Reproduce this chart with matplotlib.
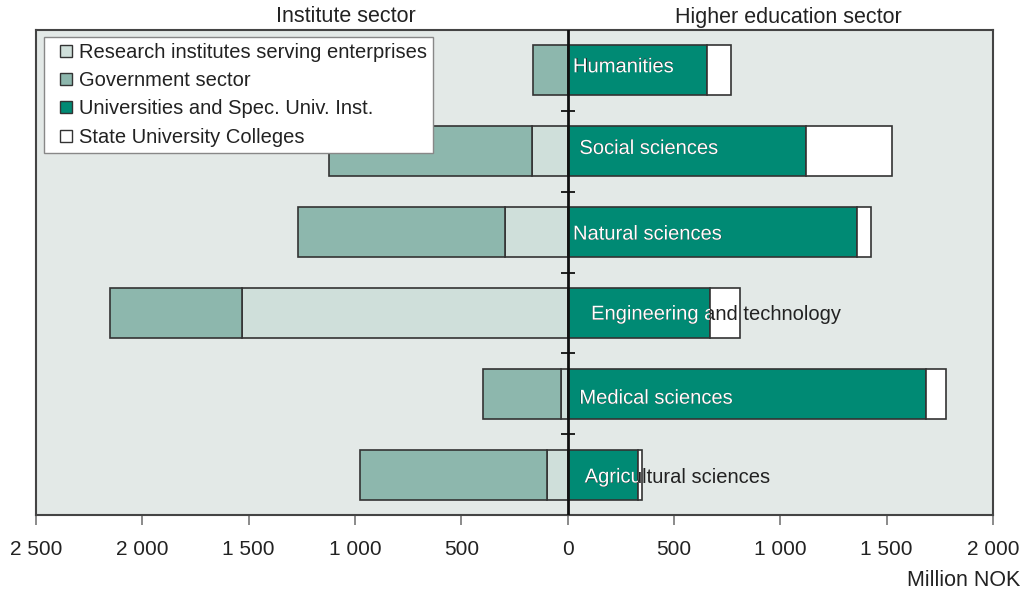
import matplotlib
matplotlib.use("Agg")
import matplotlib.pyplot as plt
import matplotlib.patheffects as pe
import numpy as np
from matplotlib.lines import Line2D

plt.rcParams["font.family"] = ["Liberation Sans", "DejaVu Sans"]

# Data (million NOK)
fields = ["Humanities", "Social sciences", "Natural sciences",
          "Engineering and technology", "Medical sciences", "Agricultural sciences"]
research_institutes = [0, 169, 296, 1529, 33, 99]
government = [165, 951, 974, 621, 367, 879]
universities = [654, 1119, 1359, 668, 1684, 329]
state_colleges = [113, 405, 66, 141, 94, 19]

xticks = [-2500, -2000, -1500, -1000, -500, 0, 500, 1000, 1500, 2000]

# label placement (layout only)
label_dx = [25, 55, 25, 110, 55, 80]
label_dy = [-0.045, -0.035, 0.025, 0.015, 0.055, 0.03]

C_RI = "#cfdfda"
C_GOV = "#8db7ad"
C_UNI = "#008a74"
C_SUC = "#ffffff"
C_BG = "#e3e9e7"
EDGE = "#333333"
TXT = "#222222"

fig = plt.figure(figsize=(10.23, 5.89), dpi=100)
ax = fig.add_axes([36 / 1023, 74 / 589, 957 / 1023, 485 / 589])
ax.set_facecolor(C_BG)

y = np.arange(len(fields))
h = 0.62
ri = np.array(research_institutes)
gov = np.array(government)
uni = np.array(universities)
suc = np.array(state_colleges)

ax.barh(y, -ri, height=h, color=C_RI, edgecolor=EDGE, linewidth=1.2, zorder=2)
ax.barh(y, -gov, left=-ri, height=h, color=C_GOV, edgecolor=EDGE, linewidth=1.2, zorder=2)
uni_bars = ax.barh(y, uni, height=h, color=C_UNI, edgecolor=EDGE, linewidth=1.2, zorder=2)
ax.barh(y, suc, left=uni, height=h, color=C_SUC, edgecolor=EDGE, linewidth=1.2, zorder=2)

# labels: dark text everywhere, white text clipped to the university bar
for i, name in enumerate(fields):
    ty = y[i] + label_dy[i]
    ax.text(label_dx[i], ty, name, va="center", ha="left",
            fontsize=14.5, color=TXT, zorder=4)
    t = ax.text(label_dx[i], ty, name, va="center", ha="left",
                fontsize=14.5, color="white", zorder=4,
                path_effects=[pe.Normal()])
    t.set_clip_on(True)
    t.set_clip_path(uni_bars.patches[i])

# zero line with small category ticks
ax.axvline(0, color="#111111", lw=2, zorder=5)
ax.plot(np.zeros(len(fields) - 1), y[:-1] + 0.5, ls="none", marker="_",
        color="#111111", markersize=10, mew=1.3, zorder=5)

ax.set_xlim(-2500, 2000)
ax.set_ylim(len(fields) - 0.5, -0.5)
ax.set_yticks([])
ax.set_xticks(xticks)
ax.set_xticklabels([f"{abs(v):,}".replace(",", " ") for v in xticks],
                   fontsize=15, color=TXT)
ax.tick_params(axis="x", direction="out", length=7, width=1.2, color="#777777", pad=11)
for s in ax.spines.values():
    s.set_color("#444444")
    s.set_linewidth(1.5)

def square(color, label):
    return Line2D([], [], ls="none", marker="s", markersize=8.5,
                  markerfacecolor=color, markeredgecolor=EDGE, markeredgewidth=1.0,
                  label=label)

handles = [square(C_RI, "Research institutes serving enterprises"),
           square(C_GOV, "Government sector"),
           square(C_UNI, "Universities and Spec. Univ. Inst."),
           square(C_SUC, "State University Colleges")]
leg = ax.legend(handles=handles, loc="upper left", bbox_to_anchor=(0.0084, 0.986),
                borderaxespad=0, fontsize=14.5, fancybox=False, framealpha=1,
                handlelength=1.6, handletextpad=-0.15,
                labelspacing=0.46, borderpad=0.3, edgecolor="#888888")
leg.get_frame().set_linewidth(1.0)
for txt in leg.get_texts():
    txt.set_color(TXT)

fig.text(346 / 1023, 1 - 17 / 589, "Institute sector", ha="center", va="center",
         fontsize=15.5, color=TXT)
fig.text(788 / 1023, 1 - 17 / 589, "Higher education sector", ha="center", va="center",
         fontsize=15.5, color=TXT)
fig.text(1020 / 1023, 1 - 580 / 589, "Million NOK", ha="right", va="center",
         fontsize=15.5, color=TXT)

fig.savefig("out.png", dpi=100)
